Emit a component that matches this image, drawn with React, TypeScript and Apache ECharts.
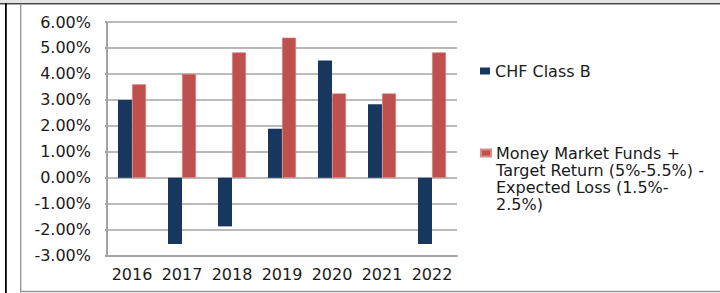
import React, { useEffect, useRef } from "react";
import * as echarts from "echarts";

const categories = ["2016", "2017", "2018", "2019", "2020", "2021", "2022"];
const chfClassB = [3.0, -2.55, -1.87, 1.89, 4.52, 2.83, -2.55];
const mmfTarget = [3.6, 4.0, 4.83, 5.4, 3.25, 3.25, 4.83];
const seriesNames = [
  "CHF Class B",
  "Money Market Funds + Target Return (5%-5.5%) - Expected Loss (1.5%-2.5%)",
];
const legendLines = [
  "Money Market Funds +",
  "Target Return (5%-5.5%) -",
  "Expected Loss (1.5%-",
  "2.5%)",
];
const yMin = -3;
const yMax = 6;
const yStep = 1;

const FONT = "DejaVu Sans";
const LH = 17.3;

export default function App() {
  const ref = useRef<HTMLDivElement>(null);
  useEffect(() => {
    if (!ref.current) return;
    const chart = echarts.init(ref.current, undefined, { renderer: "svg" });
    chart.setOption({
      animation: false,
      backgroundColor: "#ffffff",
      textStyle: { fontFamily: FONT },
      grid: { left: 107, right: 263, top: 22, bottom: 37.3, containLabel: false },
      xAxis: {
        type: "category",
        data: categories,
        axisLine: { onZero: false, lineStyle: { color: "#a3a3a3", width: 2 } },
        axisTick: { show: false },
        axisLabel: { color: "#1a1a1a", fontSize: 16, fontFamily: FONT, margin: 11, interval: 0 },
      },
      yAxis: {
        type: "value",
        min: yMin,
        max: yMax,
        interval: yStep,
        axisLine: { show: true, lineStyle: { color: "#a3a3a3", width: 2 } },
        axisTick: { show: true, length: 2, lineStyle: { color: "#a3a3a3", width: 2 } },
        splitLine: { show: true, lineStyle: { color: "#a3a3a3", width: 1.5 } },
        axisLabel: {
          color: "#1a1a1a",
          fontSize: 16,
          fontFamily: FONT,
          margin: 16,
          formatter: (v: number) => `${v.toFixed(2)}%`,
        },
      },
      legend: [
        {
          data: [seriesNames[0]],
          orient: "vertical",
          left: 480,
          top: 63,
          padding: 0,
          icon: "rect",
          itemWidth: 10,
          itemHeight: 7,
          textStyle: { color: "#1a1a1a", fontSize: 16, fontFamily: FONT },
        },
        {
          data: [seriesNames[1]],
          orient: "vertical",
          left: 480,
          top: 153 - 3.5 * LH,
          padding: 0,
          icon: "rect",
          itemWidth: 10,
          itemHeight: 7,
          formatter: () => "\n\n\n" + legendLines.join("\n"),
          textStyle: {
            color: "#1a1a1a",
            fontSize: 16,
            fontFamily: FONT,
            lineHeight: LH,
          },
        },
      ],
      series: [
        {
          name: seriesNames[0],
          type: "bar",
          data: chfClassB,
          barWidth: 14,
          barGap: "0%",
          itemStyle: { color: "#17375e" },
        },
        {
          name: seriesNames[1],
          type: "bar",
          data: mmfTarget,
          barWidth: 14,
          barGap: "0%",
          itemStyle: { color: "#c0504d", borderColor: "#d98986", borderWidth: 0.6 },
        },
      ],
      graphic: [
        { type: "rect", shape: { x: 0, y: 0, width: 720, height: 3.5 }, style: { fill: "#e3e3e3" }, silent: true },
        { type: "rect", shape: { x: 0, y: 3.3, width: 720, height: 1 }, style: { fill: "#111111" }, silent: true },
        { type: "rect", shape: { x: 0, y: 4.3, width: 720, height: 0.8 }, style: { fill: "#a0a0a0" }, silent: true },
        { type: "rect", shape: { x: 5, y: 3.3, width: 1.8, height: 290 }, style: { fill: "#000000" }, silent: true },
        { type: "rect", shape: { x: 20, y: 4.5, width: 1.4, height: 288 }, style: { fill: "#999999" }, silent: true },
        { type: "rect", shape: { x: 20, y: 290.7, width: 700, height: 1.5 }, style: { fill: "#999999" }, silent: true },
      ],
    });
    return () => chart.dispose();
  }, []);
  return (
    <div
      ref={ref}
      style={{ position: "fixed", left: 0, top: 0, width: 720, height: 293 }}
    />
  );
}
